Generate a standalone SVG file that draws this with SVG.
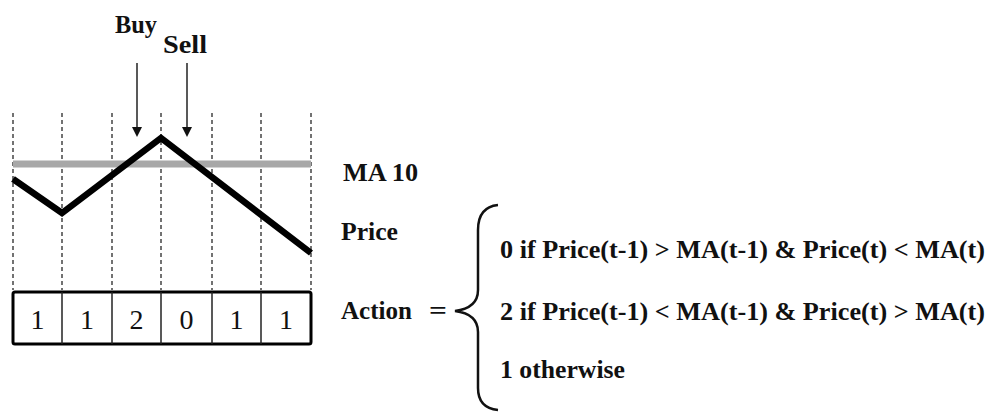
<svg xmlns="http://www.w3.org/2000/svg" width="989" height="413" viewBox="0 0 989 413">
<style>
.lbl{font-family:'Liberation Serif',Tinos,'Times New Roman',Times,'Nimbus Roman',serif;font-weight:bold;font-size:25px;fill:#111}
.dig{font-family:'Liberation Serif',Tinos,'Times New Roman',Times,'Nimbus Roman',serif;font-size:28px;fill:#111;text-anchor:middle}
.grid{stroke:#444;stroke-width:1.5;stroke-dasharray:4 3;fill:none}
.arr{stroke:#222;stroke-width:1.5;fill:none}
</style>
<rect width="989" height="413" fill="#fff"/>
<g id="grid">
<line class="grid" x1="13" y1="113" x2="13" y2="290"/>
<line class="grid" x1="62" y1="113" x2="62" y2="290"/>
<line class="grid" x1="112" y1="113" x2="112" y2="290"/>
<line class="grid" x1="161" y1="113" x2="161" y2="290"/>
<line class="grid" x1="212" y1="113" x2="212" y2="290"/>
<line class="grid" x1="261" y1="113" x2="261" y2="290"/>
<line class="grid" x1="311" y1="113" x2="311" y2="290"/>
</g>
<g id="ma10-line">
<line x1="13" y1="164" x2="311" y2="164" stroke="#a8a8a8" stroke-width="7"/>
</g>
<g id="price-line">
<polyline points="13,179 62,213 161,138 311,253" fill="none" stroke="#000" stroke-width="6.5" stroke-linejoin="miter"/>
</g>
<g id="connectors">
<line class="arr" x1="137" y1="63" x2="137" y2="128"/>
<path d="M132,127 L142,127 L137,137 Z" fill="#111"/>
<line class="arr" x1="187" y1="63" x2="187" y2="128"/>
<path d="M182,127 L192,127 L187,137 Z" fill="#111"/>
</g>
<g id="buy"><text class="lbl" x="115" y="33" textLength="42" lengthAdjust="spacingAndGlyphs">Buy</text></g>
<g id="sell"><text class="lbl" x="163" y="53" textLength="44" lengthAdjust="spacingAndGlyphs">Sell</text></g>
<g id="action-box">
<rect x="13" y="292" width="298" height="52" rx="2" fill="#fff" stroke="#000" stroke-width="3"/>
<line x1="62" y1="292" x2="62" y2="344" stroke="#222" stroke-width="1.5"/>
<line x1="112" y1="292" x2="112" y2="344" stroke="#222" stroke-width="1.5"/>
<line x1="161" y1="292" x2="161" y2="344" stroke="#222" stroke-width="1.5"/>
<line x1="212" y1="292" x2="212" y2="344" stroke="#222" stroke-width="1.5"/>
<line x1="261" y1="292" x2="261" y2="344" stroke="#222" stroke-width="1.5"/>
<text class="dig" x="37.5" y="329">1</text>
<text class="dig" x="87" y="329">1</text>
<text class="dig" x="136.5" y="329">2</text>
<text class="dig" x="186.5" y="329">0</text>
<text class="dig" x="236.5" y="329">1</text>
<text class="dig" x="286" y="329">1</text>
</g>
<g id="ma10-label"><text class="lbl" x="343" y="181" textLength="75" lengthAdjust="spacingAndGlyphs">MA 10</text></g>
<g id="price-label"><text class="lbl" x="341" y="240" textLength="57" lengthAdjust="spacingAndGlyphs">Price</text></g>
<g id="action-eq">
<text class="lbl" x="341" y="319" textLength="71" lengthAdjust="spacingAndGlyphs">Action</text>
<text class="lbl" x="429" y="319" textLength="18" lengthAdjust="spacingAndGlyphs">=</text>
<path d="M498,205 Q478,207 478,230 L478,290 Q478,308 455,311 Q478,314 478,332 L478,388 Q478,408 498,410" fill="none" stroke="#111" stroke-width="2.5"/>
</g>
<g id="cases">
<text class="lbl" x="500" y="258" textLength="485" lengthAdjust="spacingAndGlyphs">0 if Price(t-1) &gt; MA(t-1) &amp; Price(t) &lt; MA(t)</text>
<text class="lbl" x="500" y="320" textLength="485" lengthAdjust="spacingAndGlyphs">2 if Price(t-1) &lt; MA(t-1) &amp; Price(t) &gt; MA(t)</text>
<text class="lbl" x="500" y="378" textLength="125" lengthAdjust="spacingAndGlyphs">1 otherwise</text>
</g>
</svg>
